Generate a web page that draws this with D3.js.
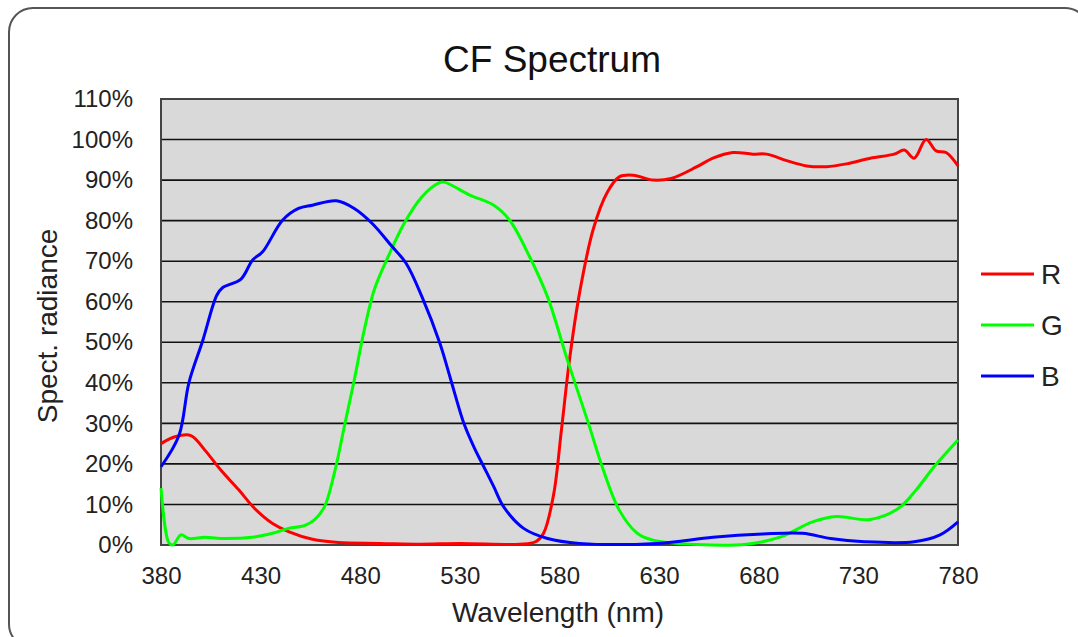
<!DOCTYPE html>
<html>
<head>
<meta charset="utf-8">
<script src="https://cdn.jsdelivr.net/npm/d3@7"></script>
<style>
  body { margin: 0; background: #fff; }
  text { font-family: "Liberation Sans", Arial, sans-serif; fill: #222; }
</style>
</head>
<body>
<svg id="chart" width="1078" height="637"></svg>
<script>
// wavelength (nm) / value (%) pairs
var redWl  = [380, 387, 395, 402, 410, 419, 427, 436, 444, 456, 469, 490, 510, 530, 560, 568, 572, 577, 581, 585, 590, 597, 604, 610, 617, 627, 636, 649, 657, 667, 677, 684, 694, 704, 714, 724, 736, 748, 753, 758, 764, 769, 774, 780];
var redVal = [25, 26.7, 27, 23.4, 18.5, 13.6, 9, 5.3, 3.3, 1.4, 0.6, 0.4, 0.2, 0.4, 0.2, 0.8, 2.9, 12.3, 28.5, 45.6, 62, 78, 87, 90.8, 91.2, 90, 90.4, 93.3, 95.4, 96.8, 96.4, 96.4, 94.8, 93.5, 93.3, 94, 95.4, 96.4, 97.4, 95.4, 100, 97.2, 96.8, 93.5];

var greenWl  = [380, 384, 386, 390, 394, 402, 410, 427, 436, 444, 452, 457, 462, 467, 472, 477, 482, 487, 494, 502, 511, 519, 522, 535, 547, 555, 565, 574, 584, 594, 602, 610, 619, 627, 649, 674, 691, 707, 719, 736, 750, 759, 768, 780];
var greenVal = [14, 0.5, 0, 2.5, 1.6, 1.9, 1.6, 2, 2.9, 4.1, 4.8, 6.2, 9.4, 17.7, 29.2, 40.7, 53, 62.9, 71.1, 79.3, 85.9, 89.2, 89.5, 86.3, 83.8, 80.1, 71.1, 61.2, 45.6, 30.8, 18.5, 8.6, 2.9, 1.2, 0.1, 0.2, 2, 5.7, 7, 6.3, 9, 13.6, 19.3, 25.9];

var blueWl  = [380, 389, 394, 401, 408, 411, 420, 426, 431, 441, 449, 456, 468, 477, 486, 496, 503, 511, 520, 525, 532, 537, 542, 547, 552, 562, 574, 590, 629, 657, 682, 702, 716, 733, 758, 771, 780];
var blueVal = [19.3, 27, 40, 50.5, 61.6, 63.5, 65.5, 70.3, 72.3, 80.1, 83, 83.8, 84.9, 83, 79.3, 73.6, 69.5, 61.2, 49.7, 41.5, 30, 24.2, 19.3, 14.4, 9.4, 4.1, 1.6, 0.4, 0.4, 1.9, 2.7, 2.9, 1.6, 0.8, 0.8, 2.5, 5.7];

var seriesNames  = ["R", "G", "B"];
var seriesColors = ["#ff0000", "#00ff00", "#0000ff"];
var xTicks = [380, 430, 480, 530, 580, 630, 680, 730, 780];
var yTicks = [0, 10, 20, 30, 40, 50, 60, 70, 80, 90, 100, 110];

var svg = d3.select("#chart");
var margin = {left: 161, top: 99, right: 120, bottom: 92};
var width = 958 - margin.left,
    height = 545 - margin.top;

function zip(wl, val) {
  return wl.map(function(w, i) { return {x: w, y: val[i]}; });
}
var series = [zip(redWl, redVal), zip(greenWl, greenVal), zip(blueWl, blueVal)];

// outer frame
svg.append("rect")
  .attr("x", 9).attr("y", 8)
  .attr("width", 1080).attr("height", 640)
  .attr("rx", 24).attr("ry", 24)
  .attr("fill", "#fff")
  .attr("stroke", "#555")
  .attr("stroke-width", 2);

var x = d3.scaleLinear().domain([380, 780]).range([0, width]);
var y = d3.scaleLinear().domain([0, 110]).range([height, 0]);

var g = svg.append("g").attr("transform", "translate(" + margin.left + "," + margin.top + ")");

g.append("rect")
  .attr("width", width).attr("height", height)
  .attr("fill", "#d9d9d9");

// horizontal grid
g.append("g")
  .selectAll("line")
  .data(yTicks)
  .enter().append("line")
    .attr("x1", 0).attr("x2", width)
    .attr("y1", function(d) { return y(d); })
    .attr("y2", function(d) { return y(d); })
    .attr("stroke", "#111")
    .attr("stroke-width", 1.6);

g.append("rect")
  .attr("width", width).attr("height", height)
  .attr("fill", "none")
  .attr("stroke", "#444")
  .attr("stroke-width", 2);

var line = d3.line()
  .x(function(d) { return x(d.x); })
  .y(function(d) { return y(d.y); })
  .curve(d3.curveCatmullRom.alpha(0.5));

g.selectAll(".series")
  .data(series)
  .enter().append("path")
    .attr("class", "series")
    .attr("fill", "none")
    .attr("stroke", function(d, i) { return seriesColors[i]; })
    .attr("stroke-width", 3)
    .attr("stroke-linejoin", "round")
    .attr("d", line);

// axes (labels only, lines drawn above)
var xAxis = d3.axisBottom(x).tickValues(xTicks).tickSize(0).tickPadding(22);
var yAxis = d3.axisLeft(y).tickValues(yTicks).tickSize(0).tickPadding(28)
  .tickFormat(function(d) { return d + "%"; });

g.append("g")
  .attr("transform", "translate(0," + height + ")")
  .call(xAxis)
  .call(function(s) { s.select(".domain").remove(); })
  .selectAll("text")
    .attr("font-size", 24)
    .attr("font-family", "Liberation Sans, Arial, sans-serif")
    .attr("fill", "#222");

g.append("g")
  .call(yAxis)
  .call(function(s) { s.select(".domain").remove(); })
  .selectAll("text")
    .attr("font-size", 24)
    .attr("font-family", "Liberation Sans, Arial, sans-serif")
    .attr("fill", "#222");

// titles
svg.append("text")
  .attr("x", 552).attr("y", 72)
  .attr("text-anchor", "middle")
  .attr("font-size", 37)
  .style("fill", "#111")
  .text("CF Spectrum");

svg.append("text")
  .attr("x", 558).attr("y", 622)
  .attr("text-anchor", "middle")
  .attr("font-size", 28)
  .text("Wavelength (nm)");

svg.append("text")
  .attr("transform", "translate(57,326) rotate(-90)")
  .attr("text-anchor", "middle")
  .attr("font-size", 28)
  .text("Spect. radiance");

// legend
var legend = svg.append("g")
  .selectAll("g")
  .data(seriesNames)
  .enter().append("g")
    .attr("transform", function(d, i) { return "translate(981," + (274 + i * 51) + ")"; });

legend.append("line")
  .attr("x1", 0).attr("x2", 53)
  .attr("stroke", function(d, i) { return seriesColors[i]; })
  .attr("stroke-width", 3);

legend.append("text")
  .attr("x", 60).attr("dy", "0.36em")
  .attr("font-size", 28)
  .text(function(d) { return d; });
</script>
</body>
</html>
